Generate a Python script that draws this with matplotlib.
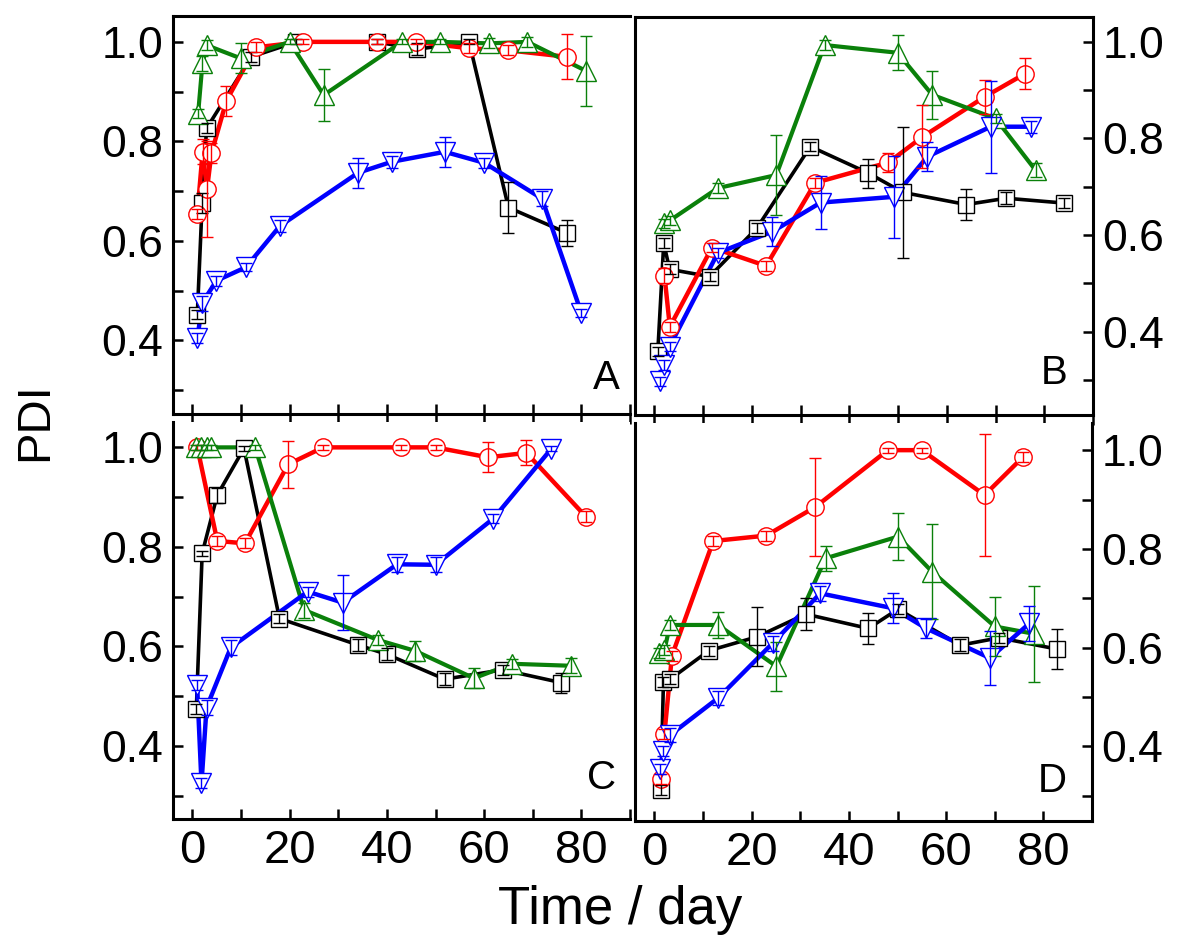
import matplotlib
matplotlib.use("Agg")
import matplotlib.pyplot as plt
from matplotlib.ticker import MultipleLocator

plt.rcParams['font.family'] = ['Liberation Sans', 'DejaVu Sans']
NARROW = ['Liberation Sans Narrow', 'Liberation Sans', 'DejaVu Sans']

# ---- panel A ----
A_sq_t = [1.0, 2.0, 2.9, 12.1, 21.4, 38, 46.1, 56.9, 65, 77]
A_sq_y = [0.452, 0.677, 0.826, 0.970, 1.0, 1.0, 0.985, 1.0, 0.667, 0.616]
A_sq_e = [0.01, 0.02, 0.01, 0.01, 0.005, 0.005, 0.012, 0.005, 0.052, 0.026]
A_ci_t = [1.0, 2.1, 3.0, 3.9, 7.0, 13.0, 22.8, 38, 46, 56.9, 65, 77]
A_ci_y = [0.654, 0.779, 0.704, 0.776, 0.882, 0.989, 1.0, 1.0, 1.0, 0.987, 0.983, 0.97]
A_ci_e = [0.01, 0.025, 0.096, 0.02, 0.03, 0.01, 0.005, 0.005, 0.005, 0.01, 0.01, 0.045]
A_up_t = [1.17, 2.06, 3.0, 9.9, 20, 27, 43.1, 51, 61, 68.9, 80.9]
A_up_y = [0.856, 0.957, 0.993, 0.967, 1.0, 0.893, 1.0, 1.0, 0.997, 1.0, 0.942]
A_up_e = [0.01, 0.015, 0.01, 0.03, 0.005, 0.052, 0.005, 0.005, 0.01, 0.01, 0.07]
A_dn_t = [1.03, 1.99, 4.94, 11, 18, 34.1, 41, 51.9, 60, 71.9, 80]
A_dn_y = [0.404, 0.475, 0.52, 0.547, 0.63, 0.737, 0.759, 0.779, 0.757, 0.685, 0.455]
A_dn_e = [0.01, 0.015, 0.01, 0.008, 0.012, 0.03, 0.012, 0.03, 0.01, 0.015, 0.008]

# ---- panel B ----
B_sq_t = [0.68, 1.9, 3.1, 11.3, 21, 32, 43.9, 51, 64, 72.2, 84.1]
B_sq_y = [0.359, 0.583, 0.529, 0.514, 0.614, 0.783, 0.728, 0.688, 0.663, 0.676, 0.666]
B_sq_e = [0.01, 0.01, 0.01, 0.01, 0.01, 0.01, 0.03, 0.135, 0.033, 0.012, 0.01]
B_ci_t = [2.05, 3.15, 11.8, 22.9, 33, 48, 55, 67.8, 76.1]
B_ci_y = [0.516, 0.41, 0.574, 0.536, 0.708, 0.75, 0.803, 0.886, 0.934]
B_ci_e = [0.015, 0.01, 0.01, 0.01, 0.01, 0.02, 0.065, 0.035, 0.032]
B_up_t = [1.9, 3.15, 13, 25, 34.9, 49.9, 57, 70, 78.2]
B_up_y = [0.624, 0.63, 0.697, 0.724, 0.993, 0.977, 0.89, 0.841, 0.734]
B_up_e = [0.01, 0.01, 0.01, 0.082, 0.01, 0.036, 0.05, 0.01, 0.015]
B_dn_t = [1.1, 1.9, 3.1, 13, 24.2, 34.1, 49.2, 56, 69, 77.3]
B_dn_y = [0.297, 0.331, 0.369, 0.563, 0.607, 0.667, 0.679, 0.762, 0.824, 0.824]
B_dn_e = [0.01, 0.01, 0.01, 0.01, 0.03, 0.055, 0.085, 0.03, 0.095, 0.012]

# ---- panel C ----
C_sq_t = [0.8, 2.0, 5.1, 10.6, 17.9, 34, 40, 51.9, 63.8, 75.9]
C_sq_y = [0.474, 0.787, 0.904, 0.998, 0.656, 0.603, 0.584, 0.534, 0.553, 0.527]
C_sq_e = [0.01, 0.005, 0.015, 0.005, 0.01, 0.012, 0.012, 0.012, 0.01, 0.02]
C_ci_t = [1.0, 5.1, 10.8, 19.7, 26.9, 42.9, 50, 60.8, 68.7, 80.9]
C_ci_y = [1.0, 0.812, 0.807, 0.966, 1.0, 1.0, 1.0, 0.98, 0.989, 0.861]
C_ci_e = [0.005, 0.01, 0.01, 0.047, 0.005, 0.005, 0.005, 0.03, 0.025, 0.012]
C_up_t = [0.8, 1.8, 2.9, 3.9, 12.9, 23, 38.1, 45.8, 57.9, 65.8, 77.8]
C_up_y = [1.0, 1.0, 1.0, 1.0, 1.0, 0.673, 0.613, 0.591, 0.536, 0.565, 0.561]
C_up_e = [0.005, 0.005, 0.005, 0.005, 0.005, 0.015, 0.01, 0.02, 0.02, 0.01, 0.015]
C_dn_t = [0.96, 1.86, 2.9, 7.9, 23.7, 30.9, 42.1, 50, 61.9, 73.8]
C_dn_y = [0.522, 0.325, 0.477, 0.598, 0.71, 0.688, 0.765, 0.764, 0.857, 0.997]
C_dn_e = [0.01, 0.01, 0.015, 0.015, 0.01, 0.055, 0.015, 0.015, 0.01, 0.005]

# ---- panel D ----
D_sq_t = [1.3, 1.85, 3.2, 11.2, 21.1, 31.1, 44, 50.1, 62.9, 70.9, 82.9]
D_sq_y = [0.312, 0.531, 0.536, 0.594, 0.622, 0.668, 0.639, 0.678, 0.605, 0.62, 0.597]
D_sq_e = [0.01, 0.01, 0.01, 0.01, 0.06, 0.032, 0.032, 0.01, 0.012, 0.01, 0.04]
D_ci_t = [1.3, 2.05, 3.6, 12.1, 23, 33.1, 48, 55, 67.9, 75.9]
D_ci_y = [0.334, 0.425, 0.584, 0.816, 0.827, 0.885, 1.0, 1.0, 0.909, 0.987]
D_ci_e = [0.01, 0.01, 0.01, 0.01, 0.01, 0.1, 0.005, 0.005, 0.124, 0.01]
D_up_t = [1.0, 2.05, 3.2, 13.1, 25.1, 35.2, 50.1, 57.1, 70, 78.1]
D_up_y = [0.589, 0.595, 0.646, 0.646, 0.562, 0.781, 0.825, 0.754, 0.643, 0.628]
D_up_e = [0.01, 0.01, 0.01, 0.027, 0.05, 0.025, 0.047, 0.096, 0.06, 0.097]
D_dn_t = [1.16, 1.85, 3.2, 13.1, 24.3, 34.1, 49, 55.9, 69, 77.1]
D_dn_y = [0.354, 0.39, 0.423, 0.498, 0.609, 0.71, 0.68, 0.639, 0.579, 0.649]
D_dn_e = [0.01, 0.01, 0.015, 0.015, 0.015, 0.015, 0.03, 0.02, 0.055, 0.035]

GREEN = '#0a800a'
styles = {
    'sq': dict(color='black', marker='s', ms=11, lw=2.6),
    'ci': dict(color='red', marker='o', ms=12.5, lw=3.2),
    'up': dict(color=GREEN, marker='^', ms=15, lw=3.0),
    'dn': dict(color='blue', marker='v', ms=15, lw=3.2),
}

panels = {
    'A': [('sq', A_sq_t, A_sq_y, A_sq_e), ('ci', A_ci_t, A_ci_y, A_ci_e),
          ('up', A_up_t, A_up_y, A_up_e), ('dn', A_dn_t, A_dn_y, A_dn_e)],
    'B': [('sq', B_sq_t, B_sq_y, B_sq_e), ('ci', B_ci_t, B_ci_y, B_ci_e),
          ('up', B_up_t, B_up_y, B_up_e), ('dn', B_dn_t, B_dn_y, B_dn_e)],
    'C': [('sq', C_sq_t, C_sq_y, C_sq_e), ('ci', C_ci_t, C_ci_y, C_ci_e),
          ('up', C_up_t, C_up_y, C_up_e), ('dn', C_dn_t, C_dn_y, C_dn_e)],
    'D': [('sq', D_sq_t, D_sq_y, D_sq_e), ('ci', D_ci_t, D_ci_y, D_ci_e),
          ('up', D_up_t, D_up_y, D_up_e), ('dn', D_dn_t, D_dn_y, D_dn_e)],
}

W, H = 1179, 946
fig = plt.figure(figsize=(W / 100, H / 100), dpi=100)

# axes boxes in pixels: left, top, right, bottom
boxes = {'A': (173, 16, 630, 414), 'B': (635, 17, 1093, 415),
         'C': (173, 422, 630, 819), 'D': (635, 423, 1092, 821)}
ylims = {'A': (0.252, 1.052), 'B': (0.2275, 1.051),
         'C': (0.253, 1.051), 'D': (0.249, 1.055)}
letter_pos = {'A': (0.978, 0.043), 'B': (0.945, 0.058),
              'C': (0.97, 0.055), 'D': (0.945, 0.053)}

for name, (l, t, r, b) in boxes.items():
    ax = fig.add_axes([l / W, 1 - b / H, (r - l) / W, (b - t) / H])
    for key, x, y, e in panels[name]:
        st = styles[key]
        ax.plot(x, y, color=st['color'], lw=st['lw'], zorder=2)
        ax.plot(x, y, ls='none', marker=st['marker'], ms=st['ms'],
                mfc='white', mec=st['color'], mew=1.0, zorder=3)
        ax.errorbar(x, y, yerr=e, fmt='none', ecolor=st['color'],
                    elinewidth=1.0, capsize=4, capthick=1.0, zorder=4)
    ax.set_xlim(-4, 90)
    ax.set_ylim(*ylims[name])
    ax.xaxis.set_major_locator(MultipleLocator(20))
    ax.xaxis.set_minor_locator(MultipleLocator(10))
    ax.yaxis.set_major_locator(MultipleLocator(0.2))
    ax.yaxis.set_minor_locator(MultipleLocator(0.1))
    for s in ax.spines.values():
        s.set_linewidth(2.2)

    left = name in 'AC'
    top_row = name in 'AB'
    ax.spines['top'].set_visible(top_row)
    if left:
        ax.spines['right'].set_visible(False)
    ax.tick_params(which='both', direction='in', length=7, width=1.8,
                   top=False, bottom=True, left=left, right=not left,
                   labelleft=left, labelright=not left,
                   labelbottom=not top_row, labeltop=False,
                   labelsize=32, pad=7)
    if top_row:
        ax.tick_params(axis='x', which='both', direction='inout', length=15)
    for lab in ax.get_xticklabels():
        lab.set_family(NARROW)
        lab.set_fontsize(34)
    ax.text(*letter_pos[name], name, transform=ax.transAxes, ha='right',
            va='bottom', fontsize=29)

fig.text(35 / W, 1 - 422 / H, 'PDI', rotation=90, ha='center', va='center',
         fontsize=34, family=NARROW)
fig.text(620 / W, 1 - 910 / H, 'Time / day', ha='center', va='center',
         fontsize=38, family=NARROW)

fig.savefig('out.png', dpi=100)
